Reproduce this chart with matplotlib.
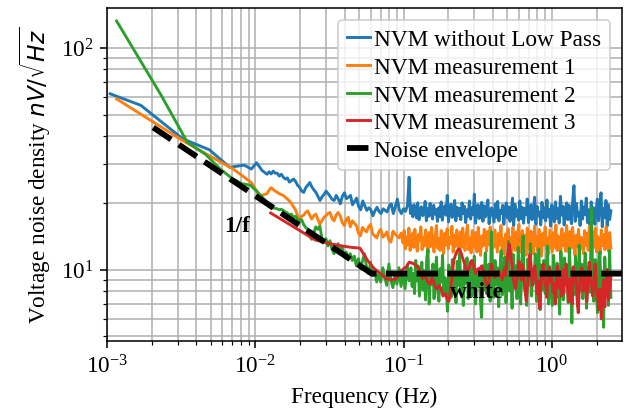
import numpy as np
import matplotlib
matplotlib.use("Agg")
import matplotlib.pyplot as plt

plt.rcParams['font.family'] = ['Liberation Serif', 'DejaVu Serif']
plt.rcParams['font.size'] = 12
plt.rcParams['mathtext.fontset'] = 'dejavusans'

# ---------------- data ----------------
F_MID0 = 0.012     # start of the mid-frequency samples (Hz)
F_MAX = 2.5        # last frequency bin (Hz)

# NVM without Low Pass
blue_lo_f = [0.00105, 0.00169, 0.00325, 0.0049, 0.00673, 0.0084, 0.0094, 0.0102, 0.0111]
blue_lo_v = [62.0, 55.0, 38.8, 34.7, 28.9, 29.6, 28.4, 30.3, 28.0]
blue_mid_end = 0.1063
blue_mid_v = [
    26.9, 27.6, 27.0, 27.8, 27.2, 27.2, 26.4, 26.9, 26.1, 25.6,
    25.9, 24.8, 25.2, 25.6, 25.0, 24.0, 23.5, 22.6, 22.3, 23.4,
    24.0, 24.7, 23.6, 22.9, 22.3, 21.4, 20.5, 21.3, 21.8, 22.6,
    22.0, 21.4, 20.7, 20.5, 21.6, 20.8, 19.8, 21.4, 22.2, 20.9,
    21.2, 21.6, 19.6, 20.3, 21.0, 19.2, 18.6, 20.4, 19.4, 18.5,
    19.0, 18.6, 17.5, 18.4, 19.1, 18.3, 17.9, 18.8, 18.5, 18.2,
    19.3, 19.8, 17.9, 19.2, 20.8, 18.6, 17.9, 18.8, 18.3, 19.5]
blue_band_start = 0.109
blue_band_v = [
    26.1, 17.9, 19.4, 17.3, 19.6, 18.4, 17.1, 20.0, 16.8, 18.6,
    19.2, 17.5, 18.0, 20.3, 16.6, 18.9, 17.4, 19.9, 18.1, 16.9,
    19.5, 17.8, 18.7, 16.5, 19.0, 17.3, 20.2, 16.7, 18.8, 19.4,
    17.6, 21.6, 16.4, 18.5, 19.7, 17.2, 18.3, 20.5, 16.6, 19.1,
    17.5, 18.9, 16.8, 20.0, 17.9, 19.3, 16.3, 18.6, 17.4, 20.4,
    16.9, 19.0, 17.7, 21.9, 16.2, 18.4, 19.6, 17.0, 18.1, 20.1,
    16.5, 19.4, 17.3, 18.7, 20.6, 16.1, 18.2, 19.0, 17.6, 16.4,
    19.8, 17.2, 20.3, 16.6, 18.5, 17.9, 19.5, 16.0, 18.8, 20.0,
    17.1, 19.2, 16.5, 18.3, 21.0, 15.8, 19.7, 17.4, 18.6, 16.7,
    20.4, 17.0, 19.1, 16.2, 18.9, 17.7, 20.8, 16.3, 18.0, 19.6,
    16.8, 18.4, 21.2, 16.0, 19.3, 17.5, 18.2, 15.9, 20.1, 17.1,
    19.0, 16.6, 20.6, 17.3, 18.7, 15.7, 19.6, 17.8, 16.4, 20.2,
    17.0, 18.9, 16.2, 21.4, 17.6, 19.3, 15.9, 18.4, 20.0, 16.8,
    19.5, 17.2, 16.1, 20.7, 23.9, 16.5, 19.9, 17.4, 18.1, 15.8,
    20.4, 16.9, 19.2, 17.7, 21.0, 16.3, 18.6, 15.9, 20.2, 17.5,
    19.0, 16.0, 18.5, 20.8, 16.6, 19.7, 22.2, 15.6, 18.9, 17.2,
    20.5, 15.7, 19.6, 16.8, 18.4]

# NVM measurement 1
orange_lo_f = [0.00116, 0.00325, 0.0049, 0.0071, 0.0084, 0.0094, 0.0107]
orange_lo_v = [58.8, 38.1, 32.6, 28.4, 26.1, 24.7, 21.5]
orange_mid_end = 0.0962
orange_mid_v = [
    22.0, 22.8, 23.4, 23.0, 22.6, 22.3, 22.0, 21.8, 21.6, 21.2,
    20.8, 20.4, 19.9, 19.2, 18.6, 17.6, 16.9, 17.4, 17.6, 18.1,
    18.4, 17.6, 16.9, 17.5, 17.8, 16.9, 16.0, 16.6, 17.2, 17.5,
    17.9, 18.1, 17.0, 16.6, 17.6, 18.1, 17.5, 16.3, 15.8, 16.8,
    17.2, 15.6, 16.6, 16.2, 15.8, 14.6, 14.2, 15.5, 15.1, 14.8,
    15.6, 16.0, 14.5, 14.2, 13.9, 14.8, 15.2, 14.0, 14.3, 14.8,
    13.6, 13.3, 14.9, 14.5, 14.2, 13.9, 14.6]
orange_band_start = 0.099
orange_band_v = [
    13.2, 15.0, 12.4, 14.1, 12.9, 15.4, 12.2, 13.7, 14.6, 12.6,
    15.2, 13.0, 12.1, 14.4, 13.5, 15.6, 12.3, 14.0, 12.8, 15.1,
    13.3, 11.9, 14.7, 12.7, 15.5, 13.1, 12.0, 14.2, 15.8, 12.5,
    13.8, 12.2, 15.0, 13.4, 11.8, 14.6, 12.9, 15.3, 12.4, 14.0,
    13.1, 15.7, 12.0, 14.3, 12.7, 15.1, 13.6, 11.7, 14.8, 12.6,
    15.4, 13.0, 12.2, 14.5, 15.9, 12.3, 13.9, 11.9, 15.0, 13.3,
    12.5, 14.7, 12.0, 15.5, 13.2, 11.6, 14.2, 12.8, 15.2, 13.7,
    12.1, 14.9, 13.0, 15.6, 11.8, 14.4, 12.6, 15.1, 13.4, 12.0,
    14.6, 12.9, 15.8, 12.3, 13.8, 11.7, 14.5, 13.1, 15.3, 12.4,
    14.0, 11.9, 15.5, 13.3, 12.2, 14.8, 12.7, 16.0, 12.0, 13.6,
    15.0, 12.5, 14.3, 11.6, 15.4, 13.0, 12.3, 14.9, 13.5, 11.8,
    15.7, 12.8, 14.1, 12.1, 15.2, 13.2, 11.5, 14.6, 12.9, 15.6,
    12.4, 13.9, 11.8, 15.1, 13.4, 12.0, 14.7, 12.6, 15.9, 12.2,
    14.2, 13.0, 11.7, 15.3, 12.8, 14.5, 12.1, 15.8, 13.3, 11.9,
    14.9, 12.5, 15.5, 13.1, 11.6, 14.3, 12.7, 15.2, 12.3, 14.0,
    13.6, 11.8, 15.0, 12.9, 14.6, 12.2, 15.7, 13.2, 11.5, 14.8,
    12.6, 15.4, 12.0, 14.1, 13.5, 11.7, 15.1, 12.8, 14.4, 12.3,
    15.6, 13.0, 12.1, 14.7, 12.5]

# NVM measurement 2
green_lo_f = [0.00116, 0.00232, 0.00348, 0.00464, 0.0058, 0.00696, 0.00812, 0.00928, 0.0104, 0.0116]
green_lo_v = [132.0, 61.0, 37.5, 33.0, 28.4, 25.8, 24.4, 24.0, 22.3, 20.6]
green_mid_end = 0.109
green_mid_v = [
    20.0, 19.2, 19.4, 19.0, 18.9, 18.8, 18.6, 18.7, 18.5, 18.2,
    18.0, 17.6, 17.8, 17.2, 17.4, 16.9, 16.6, 16.8, 16.0, 15.5,
    15.2, 14.2, 13.7, 14.6, 15.6, 15.2, 15.7, 13.9, 13.3, 13.8,
    12.8, 13.5, 12.4, 11.8, 12.6, 13.1, 12.0, 12.6, 11.4, 12.0,
    11.2, 11.8, 11.0, 11.5, 10.4, 11.2, 10.1, 10.9, 11.8, 10.3,
    9.6, 10.8, 9.4, 10.0, 8.8, 9.6, 8.8, 10.2, 9.2, 8.5,
    10.6, 9.0, 8.3, 9.4, 8.6, 10.2, 8.4, 9.6, 8.2, 10.5,
    8.9]
green_band_start = 0.112
green_band_v = [
    10.2, 8.4, 9.6, 7.8, 11.0, 8.9, 10.4, 7.6, 9.3, 10.8,
    8.1, 9.9, 7.3, 11.2, 12.3, 7.0, 9.5, 8.6, 10.6, 7.4,
    9.8, 11.4, 8.0, 7.2, 10.1, 8.8, 11.6, 7.7, 9.2, 8.3,
    6.5, 10.5, 9.0, 7.5, 11.1, 8.2, 9.7, 7.1, 10.9, 8.5,
    11.8, 7.9, 9.4, 6.9, 10.3, 8.7, 11.3, 7.4, 9.1, 10.7,
    7.6, 8.9, 11.5, 7.0, 10.0, 8.4, 9.6, 7.3, 6.1, 10.4,
    8.1, 11.9, 7.8, 9.3, 10.6, 7.2, 14.8, 9.0, 7.5, 11.0,
    8.6, 10.2, 6.8, 9.8, 12.2, 7.7, 8.3, 11.4, 7.1, 10.1,
    13.4, 8.0, 9.5, 6.7, 11.7, 8.8, 10.4, 7.4, 12.6, 9.2,
    7.0, 10.8, 14.2, 8.2, 9.7, 6.9, 11.2, 8.5, 13.1, 7.6,
    10.0, 8.7, 11.8, 7.2, 9.4, 12.4, 6.6, 10.5, 8.1, 11.0,
    7.8, 9.9, 12.8, 7.0, 10.3, 8.4, 6.9, 11.6, 9.1, 7.5,
    10.7, 8.2, 6.3, 12.1, 9.6, 7.3, 11.3, 8.6, 10.0, 7.1,
    12.5, 8.9, 5.75, 10.2, 7.7, 11.5, 9.3, 6.8, 12.9, 8.0,
    10.6, 7.4, 9.8, 11.9, 6.7, 8.5, 10.4, 7.9, 19.0, 9.0,
    7.2, 11.1, 8.3, 6.4, 10.9, 12.0, 7.6, 9.5, 5.5, 11.4,
    8.1, 10.0, 6.9, 12.2, 7.5]

# NVM measurement 3
red_lo_f = [0.0127, 0.0254, 0.0318, 0.0381, 0.0445, 0.0508, 0.0572, 0.0635,
            0.0699, 0.0762, 0.0826, 0.0889, 0.0953, 0.1016]
red_lo_v = [18.0, 13.6, 13.1, 12.8, 12.6, 12.5, 11.0, 10.1, 9.6, 9.1, 9.0, 9.1, 9.8, 10.2]
red_band_start = 0.105
red_band_v = [
    10.3, 10.6, 10.8, 10.8, 10.7, 10.7, 10.6, 10.5, 10.4, 10.3,
    10.1, 9.8, 9.4, 9.1, 9.3, 9.5, 9.2, 8.9, 8.7, 8.6,
    8.8, 9.2, 8.9, 8.5, 8.3, 8.2, 8.4, 8.5, 8.3, 8.0,
    7.6, 7.7, 7.8, 7.5, 7.3, 7.2, 7.8, 8.8, 9.9, 11.0,
    11.5, 11.9, 12.2, 12.4, 12.3, 11.9, 11.4, 11.0, 10.5, 10.0,
    9.6, 9.9, 10.4, 10.9, 11.0, 10.6, 10.0, 9.6, 9.8, 10.1,
    10.0, 10.2, 10.4, 10.1, 9.6, 9.0, 8.5, 8.2, 8.9, 9.7,
    10.6, 10.2, 9.6, 9.2, 9.4, 9.7, 9.9, 9.6, 9.3, 9.0,
    9.5, 10.2, 9.4, 11.0, 12.2, 13.0, 11.8, 10.4, 9.2, 8.6,
    8.2, 8.9, 9.8, 10.9, 9.6, 9.0, 10.5, 9.3, 8.0, 7.2,
    8.4, 9.9, 11.7, 10.2, 8.5, 9.6, 10.4, 9.1, 7.8, 8.9,
    6.7, 8.3, 9.8, 10.6, 9.0, 8.6, 7.5, 9.4, 10.2, 8.8,
    9.6, 7.9, 8.7, 7.0, 9.2, 10.4, 8.3, 9.0, 7.6, 10.0,
    7.8, 9.5, 10.6, 8.4, 7.2, 9.1, 7.6, 7.0, 10.3, 8.8,
    9.7, 7.4, 6.4, 8.6, 9.7, 10.2, 8.0, 9.1, 9.4, 7.2,
    8.5, 10.8, 9.0, 8.6, 7.6, 9.3, 10.6, 8.1, 7.5, 6.6,
    8.2, 6.0, 7.4, 9.0, 6.8, 8.7, 10.0, 7.3, 8.4, 9.2]

# Noise envelope (1/f region then white floor)
env_f = [0.00205, 0.061, 4.0]
env_v = [43.7, 9.6, 9.6]

labels = ['NVM without Low Pass', 'NVM measurement 1', 'NVM measurement 2',
          'NVM measurement 3', 'Noise envelope']


# ---------------- assemble ----------------
def series(lo_f, lo_v, parts):
    fs, vs = [np.asarray(lo_f, float)], [np.asarray(lo_v, float)]
    for f0, f1, v in parts:
        fs.append(np.geomspace(f0, f1, len(v)))
        vs.append(np.asarray(v, float))
    return np.concatenate(fs), np.concatenate(vs)


blue_f, blue_v = series(blue_lo_f, blue_lo_v,
                        [(F_MID0, blue_mid_end, blue_mid_v),
                         (blue_band_start, F_MAX, blue_band_v)])
orange_f, orange_v = series(orange_lo_f, orange_lo_v,
                            [(F_MID0, orange_mid_end, orange_mid_v),
                             (orange_band_start, F_MAX, orange_band_v)])
green_f, green_v = series(green_lo_f, green_lo_v,
                          [(F_MID0, green_mid_end, green_mid_v),
                           (green_band_start, F_MAX, green_band_v)])
red_f, red_v = series(red_lo_f, red_lo_v,
                      [(red_band_start, F_MAX, red_band_v)])

fig = plt.figure(figsize=(4.5, 3.0), dpi=139.33)
ax = fig.add_subplot(111)
fig.subplots_adjust(left=0.1707, right=0.992, bottom=0.1818, top=0.9785)

lw = 1.5
ax.loglog(blue_f, blue_v, color='#1f77b4', lw=lw, label=labels[0])
ax.loglog(orange_f, orange_v, color='#ff7f0e', lw=lw, label=labels[1])
ax.loglog(green_f, green_v, color='#2ca02c', lw=lw, label=labels[2])
ax.loglog(red_f, red_v, color='#d62728', lw=lw, label=labels[3])
ax.loglog(env_f, env_v, 'k--', lw=3, label=labels[4])

ax.text(0.0062, 14.9, '1/f', fontweight='bold', fontsize=12)
ax.text(0.205, 7.5, 'white', fontweight='bold', fontsize=12)

ax.set_xlim(1e-3, 2.97)
ax.set_ylim(4.77, 151)
ax.grid(True, which='both')
ax.set_xlabel('Frequency (Hz)')
ax.set_ylabel(r'Voltage noise density $nV/\sqrt{Hz}$')

ax.legend(loc='upper right', handlelength=1.0, handletextpad=0.15,
          labelspacing=0.28, fontsize=12)

fig.savefig('out.png', dpi=139.33)
